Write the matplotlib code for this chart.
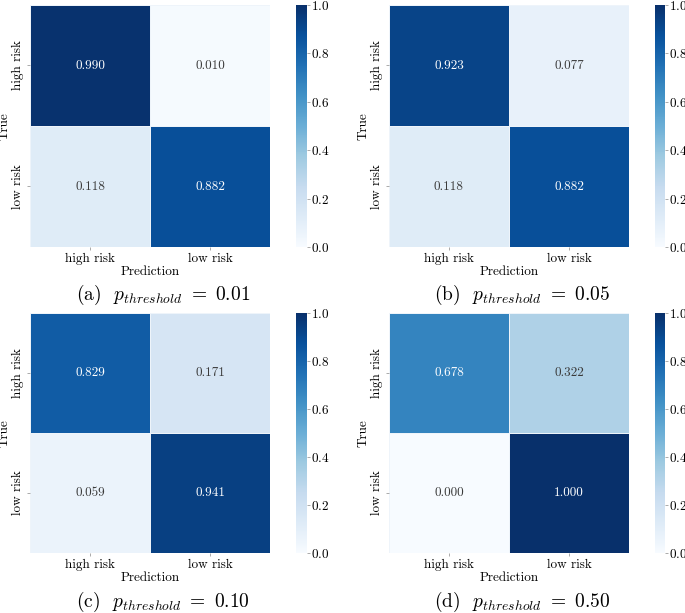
import matplotlib
matplotlib.use("Agg")
import matplotlib.pyplot as plt
import numpy as np

plt.rcParams['font.family'] = 'serif'
plt.rcParams['font.serif'] = ['cmr10']
plt.rcParams['mathtext.fontset'] = 'cm'
plt.rcParams['axes.formatter.use_mathtext'] = True

labels = ['high risk', 'low risk']
panel_tags = ['(a)', '(b)', '(c)', '(d)']
thresholds = ['0.01', '0.05', '0.10', '0.50']

cm_a = [[0.990, 0.010], [0.118, 0.882]]
cm_b = [[0.923, 0.077], [0.118, 0.882]]
cm_c = [[0.829, 0.171], [0.059, 0.941]]
cm_d = [[0.678, 0.322], [0.000, 1.000]]
matrices = [cm_a, cm_b, cm_c, cm_d]

W, H = 685, 613
fig = plt.figure(figsize=(W / 100, H / 100), dpi=100)

# pixel boxes: heatmap (left, top, right, bottom), colorbar x range, caption centre
boxes = [
    ((30, 5, 270, 247), (296, 307), (163, 295)),
    ((389, 5, 629, 247), (655, 665), (522, 295)),
    ((30, 313, 270, 553), (296, 307), (163, 602)),
    ((389, 313, 629, 553), (655, 665), (522, 602)),
]

cmap = plt.get_cmap('Blues')


def luminance(rgba):
    # relative luminance, same rule seaborn uses for annotation colour
    c = np.array(rgba[:3])
    c = np.where(c <= 0.03928, c / 12.92, ((c + 0.055) / 1.055) ** 2.4)
    return 0.2126 * c[0] + 0.7152 * c[1] + 0.0722 * c[2]


for mat, tag, thr, (hb, cb, cap) in zip(matrices, panel_tags, thresholds, boxes):
    l, t, r, b = hb
    ax = fig.add_axes([l / W, 1 - b / H, (r - l) / W, (b - t) / H])
    data = np.array(mat)
    mesh = ax.pcolormesh(data, cmap=cmap, vmin=0, vmax=1,
                         edgecolors='#eef4fa', linewidth=0.4)
    ax.set_xlim(0, 2)
    ax.set_ylim(2, 0)
    for i in range(2):
        for j in range(2):
            v = data[i, j]
            col = 'white' if luminance(cmap(v)) < 0.408 else '#3a3a3a'
            ax.text(j + 0.5, i + 0.5, f'{v:.3f}', ha='center', va='center',
                    color=col, fontsize=9.5)
    ax.set_xticks([0.5, 1.5])
    ax.set_xticklabels(labels, fontsize=9.5)
    ax.set_yticks([0.5, 1.5])
    ax.set_yticklabels(labels, fontsize=9.5, rotation=90, va='center')
    ax.tick_params(length=2, width=0.5, color='#888888', pad=2)
    ax.set_xlabel('Prediction', fontsize=9.5, labelpad=1)
    ax.set_ylabel('True', fontsize=9.5, labelpad=1)
    for s in ax.spines.values():
        s.set_visible(False)

    cax = fig.add_axes([cb[0] / W, 1 - b / H, (cb[1] - cb[0]) / W, (b - t) / H])
    cbar = fig.colorbar(mesh, cax=cax)
    cbar.outline.set_visible(False)
    cbar.set_ticks([0.0, 0.2, 0.4, 0.6, 0.8, 1.0])
    cax.tick_params(labelsize=9.5, length=2, width=0.5, color='#888888', pad=1)

    fig.text(cap[0] / W, 1 - cap[1] / H,
             tag + r'  $p_{threshold}\ =\ ' + thr + '$',
             ha='center', va='center', fontsize=14)

fig.savefig('out.png', dpi=100)
